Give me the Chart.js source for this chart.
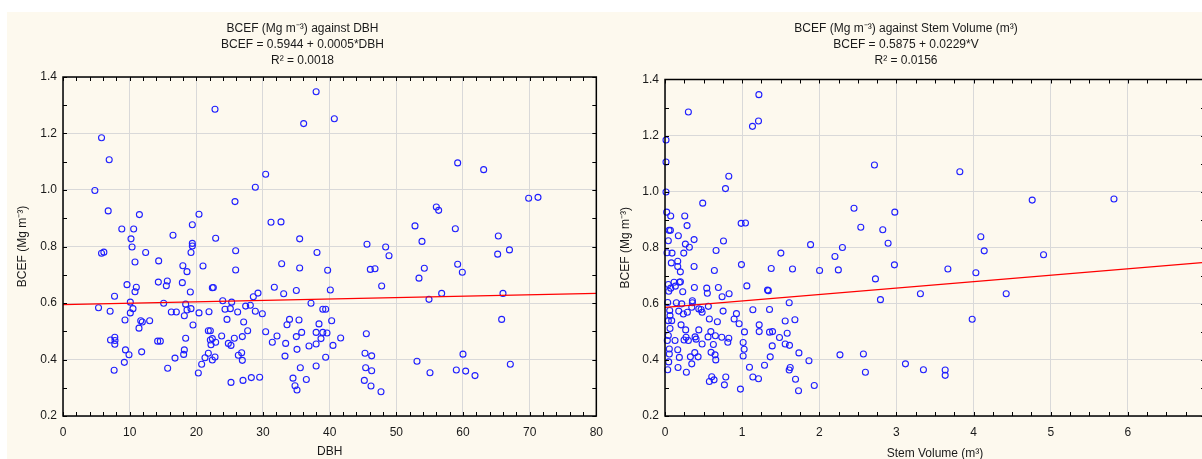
<!DOCTYPE html>
<html>
<head>
<meta charset="utf-8">
<script src="https://cdn.jsdelivr.net/npm/chart.js@4.4.1/dist/chart.umd.min.js"></script>
<style>
    html, body { margin: 0; padding: 0; }
    body { width: 1202px; height: 459px; overflow: hidden; position: relative; background: #fff; }
    #bg { position: absolute; left: 7px; top: 12px; width: 1195px; height: 447px; background: #fdf9ee; }
    canvas { position: absolute; }
    #dbhChart { left: 7px; top: 12px; }
    #volChart { left: 607px; top: 12px; }
</style>
</head>
<body>
<div id="bg"></div>
<canvas id="dbhChart" width="605" height="447"></canvas>
<canvas id="volChart" width="613" height="447"></canvas>
<script>
// BCEF vs DBH
const dbhX = [5.78, 6.93, 4.78, 6.78, 11.46, 8.82, 10.6, 10.2, 16.5, 19.4, 20.4, 22.8, 22.9, 25.8, 28.85, 30.4, 31.2, 32.7, 35.5, 37.97,
    36.1, 40.7, 59.2, 63.1, 69.85, 71.25, 56.0, 56.35, 52.8, 58.85, 65.3, 53.85, 10.36, 19.4, 19.4, 19.2, 25.9, 38.1, 5.78, 6.13,
    12.4, 10.8, 14.35, 17.98, 18.6, 21.0, 25.9, 32.8, 35.5, 39.7, 9.6, 11.0, 10.8, 14.3, 15.65, 15.5, 17.9, 19.1, 22.4, 22.55,
    31.7, 33.1, 35.0, 40.1, 7.73, 10.1, 5.33, 7.07, 10.5, 10.1, 9.3, 11.66, 11.9, 13.0, 11.4, 15.1, 16.25, 17.0, 18.2, 18.4,
    18.6, 19.2, 19.5, 20.4, 21.9, 23.96, 24.3, 25.1, 25.3, 26.2, 24.6, 27.1, 27.4, 28.1, 28.55, 29.25, 28.85, 29.9, 27.7, 26.9,
    25.7, 23.8, 21.8, 22.1, 22.1, 22.4, 22.9, 22.2, 24.8, 25.2, 26.8, 26.3, 26.9, 21.8, 21.3, 22.8, 22.4, 20.8, 20.3, 25.2,
    27.0, 28.25, 29.5, 18.4, 18.2, 18.1, 16.8, 15.7, 14.2, 14.6, 7.13, 7.77, 7.77, 7.8, 9.37, 9.9, 9.2, 7.67, 11.8, 30.4,
    31.4, 32.1, 33.4, 33.98, 33.6, 35.4, 35.8, 35.0, 35.1, 33.3, 36.9, 37.97, 38.7, 37.97, 38.97, 39.6, 38.4, 37.2, 38.97, 39.4,
    40.3, 40.5, 39.4, 37.97, 35.6, 36.5, 34.5, 34.8, 35.1, 45.6, 48.4, 48.9, 65.2, 66.97, 59.2, 59.9, 54.2, 53.4, 46.1, 46.8,
    47.8, 56.8, 54.9, 66.0, 65.8, 41.65, 45.5, 45.3, 46.3, 45.4, 46.3, 45.2, 46.2, 47.7, 53.1, 55.05, 59.0, 60.4, 60.0, 61.8, 67.1];
const dbhY = [1.185, 1.107, 0.998, 0.926, 0.913, 0.862, 0.862, 0.827, 0.840, 0.877, 0.914, 1.286, 0.829, 0.959, 1.010, 1.056, 0.886, 0.887, 0.827, 1.348,
    1.235, 1.252, 1.096, 1.072, 0.971, 0.974, 0.940, 0.928, 0.873, 0.863, 0.837, 0.818, 0.798, 0.811, 0.802, 0.779, 0.785, 0.779, 0.776, 0.780,
    0.779, 0.745, 0.749, 0.732, 0.711, 0.731, 0.717, 0.739, 0.724, 0.716, 0.665, 0.656, 0.640, 0.674, 0.678, 0.661, 0.672, 0.639, 0.654, 0.655,
    0.656, 0.633, 0.644, 0.646, 0.624, 0.603, 0.583, 0.571, 0.580, 0.565, 0.540, 0.537, 0.533, 0.537, 0.511, 0.599, 0.568, 0.568, 0.555, 0.596,
    0.575, 0.580, 0.522, 0.565, 0.569, 0.608, 0.578, 0.580, 0.603, 0.568, 0.542, 0.533, 0.589, 0.592, 0.622, 0.635, 0.571, 0.562, 0.502, 0.481,
    0.475, 0.483, 0.502, 0.502, 0.469, 0.474, 0.461, 0.452, 0.457, 0.450, 0.424, 0.415, 0.397, 0.422, 0.406, 0.409, 0.398, 0.383, 0.352, 0.319,
    0.326, 0.336, 0.337, 0.475, 0.434, 0.418, 0.405, 0.369, 0.465, 0.465, 0.469, 0.479, 0.454, 0.467, 0.434, 0.417, 0.390, 0.362, 0.427, 0.498,
    0.461, 0.483, 0.457, 0.542, 0.523, 0.540, 0.496, 0.481, 0.436, 0.412, 0.448, 0.455, 0.474, 0.496, 0.496, 0.494, 0.526, 0.599, 0.578, 0.578,
    0.537, 0.450, 0.408, 0.377, 0.371, 0.329, 0.334, 0.307, 0.292, 0.808, 0.798, 0.767, 0.773, 0.788, 0.737, 0.709, 0.723, 0.688, 0.719, 0.721,
    0.660, 0.634, 0.613, 0.634, 0.542, 0.476, 0.491, 0.422, 0.413, 0.371, 0.360, 0.326, 0.306, 0.286, 0.394, 0.353, 0.363, 0.359, 0.419, 0.343, 0.383];

// BCEF vs stem volume
const volX = [0.303, 1.217, 1.212, 1.134, 0.013, 0.013, 0.013, 0.827, 0.784, 0.489, 0.022, 0.074, 0.256, 0.286, 0.987, 1.043, 0.052, 0.07, 0.173, 0.043,
    0.377, 0.758, 0.264, 0.316, 2.45, 1.887, 2.30, 0.662, 0.026, 0.091, 0.243, 1.502, 2.203, 0.082, 0.165, 0.165, 0.199, 0.377, 0.640, 0.991,
    1.377, 1.653, 2.004, 2.247, 0.043, 0.117, 0.186, 0.200, 0.074, 0.134, 0.230, 0.048, 0.381, 0.541, 0.549, 0.692, 0.740, 0.831, 1.061, 1.329,
    1.340, 1.610, 0.035, 0.147, 0.217, 0.355, 0.355, 0.562, 0.061, 0.178, 0.238, 0.290, 0.347, 0.438, 0.468, 0.481, 0.753, 0.926, 1.139, 1.355,
    0.065, 0.043, 0.087, 0.208, 0.575, 0.679, 0.896, 0.961, 1.221, 1.558, 1.684, 0.065, 0.268, 0.438, 0.594, 1.030, 1.221, 1.355, 1.394, 1.584,
    0.043, 0.273, 0.390, 0.403, 0.558, 0.653, 0.736, 0.827, 1.484, 0.030, 0.130, 0.247, 0.303, 0.481, 0.627, 0.814, 1.013, 1.390, 1.558, 1.614,
    0.056, 0.165, 0.386, 0.597, 0.649, 1.026, 1.013, 1.736, 2.268, 0.056, 0.186, 0.329, 0.429, 0.658, 1.364, 0.048, 0.347, 1.866, 0.035, 0.169,
    0.277, 1.095, 1.290, 1.623, 1.610, 0.606, 0.636, 0.575, 0.788, 0.770, 1.139, 1.212, 0.978, 1.692, 1.731, 1.935, 2.715, 3.822, 4.76, 5.82,
    2.979, 2.538, 2.823, 2.892, 4.094, 4.138, 4.907, 2.974, 3.667, 4.03, 2.728, 2.793, 3.311, 4.423, 3.982, 2.572, 2.598, 3.117, 3.35, 3.632, 3.632];
const volY = [1.284, 1.346, 1.252, 1.233, 1.184, 1.106, 0.999, 1.055, 1.011, 0.959, 0.927, 0.913, 0.913, 0.879, 0.887, 0.888, 0.862, 0.862, 0.843, 0.825,
    0.829, 0.824, 0.813, 0.802, 0.941, 0.811, 0.801, 0.790, 0.782, 0.781, 0.781, 0.781, 0.769, 0.746, 0.752, 0.733, 0.714, 0.733, 0.719, 0.740,
    0.726, 0.724, 0.719, 0.721, 0.669, 0.677, 0.677, 0.679, 0.656, 0.663, 0.643, 0.645, 0.658, 0.656, 0.638, 0.658, 0.625, 0.636, 0.664, 0.649,
    0.647, 0.604, 0.605, 0.604, 0.600, 0.611, 0.604, 0.591, 0.576, 0.574, 0.564, 0.570, 0.588, 0.582, 0.580, 0.570, 0.574, 0.565, 0.579, 0.580,
    0.558, 0.540, 0.540, 0.525, 0.546, 0.536, 0.546, 0.529, 0.525, 0.539, 0.543, 0.512, 0.507, 0.507, 0.501, 0.500, 0.501, 0.499, 0.501, 0.495,
    0.487, 0.481, 0.482, 0.474, 0.482, 0.486, 0.481, 0.477, 0.480, 0.469, 0.469, 0.471, 0.469, 0.457, 0.455, 0.463, 0.462, 0.450, 0.457, 0.452,
    0.439, 0.436, 0.426, 0.427, 0.418, 0.438, 0.414, 0.425, 0.418, 0.421, 0.409, 0.411, 0.411, 0.400, 0.411, 0.393, 0.386, 0.397, 0.365, 0.373,
    0.356, 0.374, 0.381, 0.373, 0.364, 0.340, 0.329, 0.323, 0.339, 0.311, 0.339, 0.333, 0.296, 0.331, 0.290, 0.309, 1.095, 1.071, 0.970, 0.974,
    0.927, 0.873, 0.864, 0.816, 0.839, 0.789, 0.775, 0.739, 0.724, 0.711, 0.689, 0.615, 0.636, 0.636, 0.545, 0.421, 0.356, 0.386, 0.365, 0.364, 0.345];

// regression coefficients (from the titles)
const dbhFit = { a: 0.5944, b: 0.0005 };
const volFit = { a: 0.5875, b: 0.0229 };

const FONT = 'Arial, "Liberation Sans", sans-serif';
const TEXT = '#1a1a1a';

// frame and small inward ticks around the plot area
const frameTicks = {
    id: 'frameTicks',
    afterDatasetsDraw(chart, args, opts) {
        const { ctx, chartArea: a } = chart;
        const x = chart.scales.x, y = chart.scales.y;
        const len = 4;
        ctx.save();
        ctx.strokeStyle = '#000';
        ctx.lineWidth = 1;
        ctx.beginPath();
        for (let v = x.min; v <= x.max + 1e-9; v += opts.xStep) {
            const px = Math.round(x.getPixelForValue(v)) + 0.5;
            ctx.moveTo(px, a.top); ctx.lineTo(px, a.top + len);
            ctx.moveTo(px, a.bottom); ctx.lineTo(px, a.bottom - len);
        }
        for (let v = y.min; v <= y.max + 1e-9; v += opts.yStep) {
            const py = Math.round(y.getPixelForValue(v)) + 0.5;
            ctx.moveTo(a.left, py); ctx.lineTo(a.left + len, py);
            ctx.moveTo(a.right, py); ctx.lineTo(a.right - len, py);
        }
        ctx.stroke();
        ctx.lineWidth = 1.5;
        ctx.strokeRect(a.left, a.top, a.right - a.left, a.bottom - a.top);
        ctx.restore();
    }
};

function makeChart(id, xs, ys, fit, cfg) {
    const points = xs.map((v, i) => ({ x: v, y: ys[i] }));
    const line = [
        { x: cfg.xMin, y: fit.a + fit.b * cfg.xMin },
        { x: cfg.xMax, y: fit.a + fit.b * cfg.xMax }
    ];
    return new Chart(document.getElementById(id), {
        type: 'scatter',
        data: {
            datasets: [{
                type: 'line',
                data: line,
                borderColor: '#ff0000',
                borderWidth: 1.3,
                pointRadius: 0,
                fill: false
            }, {
                data: points,
                pointStyle: 'circle',
                pointRadius: 3,
                borderWidth: 1.1,
                borderColor: '#1f1fff',
                backgroundColor: 'rgba(0,0,0,0)',
                clip: false
            }]
        },
        options: {
            responsive: false,
            animation: false,
            devicePixelRatio: 1,
            layout: { padding: { left: 0, right: cfg.padRight, top: 0, bottom: 0 } },
            scales: {
                x: {
                    type: 'linear',
                    min: cfg.xMin,
                    max: cfg.xMax,
                    afterFit: s => { s.height = 43; },
                    ticks: {
                        stepSize: cfg.xMajor,
                        padding: 9,
                        color: TEXT,
                        font: { family: FONT, size: 12 }
                    },
                    grid: { color: '#d9d9d9', lineWidth: 1, drawTicks: false },
                    border: { display: false },
                    title: {
                        display: true,
                        text: cfg.xTitle,
                        color: TEXT,
                        padding: { top: 0, bottom: cfg.xTitlePad },
                        font: { family: FONT, size: 12 }
                    }
                },
                y: {
                    min: 0.2,
                    max: 1.4,
                    afterFit: s => { s.width = cfg.yWidth; },
                    ticks: {
                        stepSize: 0.2,
                        padding: 6,
                        color: TEXT,
                        font: { family: FONT, size: 12 },
                        callback: v => v.toFixed(1)
                    },
                    grid: { color: '#d9d9d9', lineWidth: 1, drawTicks: false },
                    border: { display: false },
                    title: {
                        display: true,
                        text: 'BCEF (Mg m⁻³)',
                        color: TEXT,
                        padding: { top: cfg.yTitlePad, bottom: 0 },
                        font: { family: FONT, size: 12 }
                    }
                }
            },
            plugins: {
                legend: { display: false },
                tooltip: { enabled: false },
                title: {
                    display: true,
                    text: cfg.title,
                    color: TEXT,
                    padding: { top: 8.5, bottom: cfg.titlePadBottom },
                    font: { family: FONT, size: 12, weight: 'normal', lineHeight: 16 / 12 }
                },
                frameTicks: { xStep: cfg.xMinor, yStep: 0.1 }
            }
        },
        plugins: [frameTicks]
    });
}

makeChart('dbhChart', dbhX, dbhY, dbhFit, {
    xMin: 0, xMax: 80, xMajor: 10, xMinor: 2,
    xTitle: 'DBH', xTitlePad: 0,
    yWidth: 56, yTitlePad: 8, padRight: 14, titlePadBottom: 8.5,
    title: ['BCEF (Mg m⁻³) against DBH', 'BCEF = 0.5944 + 0.0005*DBH', 'R² = 0.0018']
});

makeChart('volChart', volX, volY, volFit, {
    xMin: 0, xMax: 7, xMajor: 1, xMinor: 0.25,
    xTitle: 'Stem Volume (m³)', xTitlePad: -2,
    yWidth: 58, yTitlePad: 11, padRight: 15, titlePadBottom: 11,
    title: ['BCEF (Mg m⁻³) against Stem Volume (m³)', 'BCEF = 0.5875 + 0.0229*V', 'R² = 0.0156']
});
</script>
</body>
</html>
